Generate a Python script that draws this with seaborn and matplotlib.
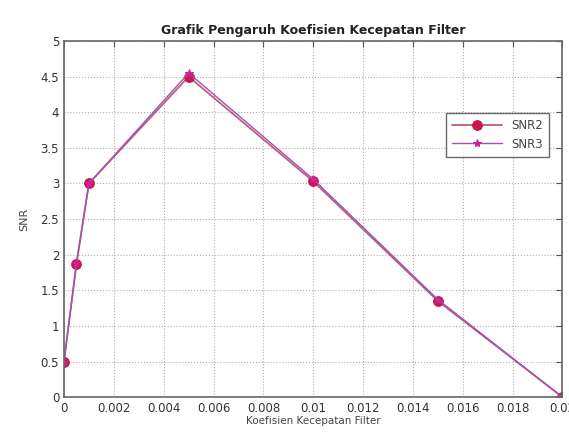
import numpy as np
import pandas as pd
import seaborn as sns
from matplotlib import pyplot as plt

# koefisien kecepatan filter vs SNR
koef = [0, 0.0005, 0.001, 0.005, 0.01, 0.015, 0.02]
snr2 = [0.5, 1.87, 3.0, 4.5, 3.03, 1.35, 0.0]
snr3 = [0.5, 1.88, 3.0, 4.55, 3.06, 1.37, 0.0]
xtick_labels = ["0", "0.002", "0.004", "0.006", "0.008", "0.01",
                "0.012", "0.014", "0.016", "0.018", "0.02"]
ytick_labels = ["0", "0.5", "1", "1.5", "2", "2.5", "3", "3.5", "4", "4.5", "5"]

sns.set_style("white")
plt.rcParams['font.family'] = ['DejaVu Sans']

fig = plt.figure(figsize=(5.69, 4.34), dpi=100)
ax = fig.add_axes([0.1125, 0.085, 0.876, 0.8205])

sns.lineplot(x=koef, y=snr2, ax=ax, color="#b8607a", lw=1.3,
             marker="o", markersize=7, markerfacecolor="#c8174a",
             markeredgecolor="#c8174a", label="SNR2")
sns.lineplot(x=koef, y=snr3, ax=ax, color="#a64fb0", lw=1.0,
             marker="*", markersize=6, markerfacecolor="#d0209a",
             markeredgecolor="#d0209a", label="SNR3")

ax.set_xlim(0, 0.02)
ax.set_ylim(0, 5)
ax.set_xticks(np.arange(0, 0.0201, 0.002))
ax.set_xticklabels(xtick_labels)
ax.set_yticks(np.arange(0, 5.01, 0.5))
ax.set_yticklabels(ytick_labels)
ax.grid(True, linestyle=":", color="#b0b0b0", lw=0.8)
ax.tick_params(direction="in", top=True, right=True, length=4,
               labelsize=8.5, colors="#555555", labelcolor="#333333")
for s in ax.spines.values():
    s.set_color("#666666")
    s.set_linewidth(1.2)

ax.set_title("Grafik Pengaruh Koefisien Kecepatan Filter", fontsize=9,
             fontweight="bold", color="#222222", pad=5)
ax.set_xlabel("Koefisien Kecepatan Filter", fontsize=7.5, color="#444444", labelpad=1)
ax.set_ylabel("SNR", fontsize=8, color="#444444", labelpad=8)

leg = ax.legend(loc="upper right", bbox_to_anchor=(0.985, 0.815), fontsize=8.5,
                frameon=True, fancybox=False, borderpad=0.5, handlelength=4.2)
leg.get_frame().set_edgecolor("#444444")
leg.get_frame().set_linewidth(1.0)
for t in leg.get_texts():
    t.set_color("#444444")

plt.savefig("out.png", dpi=100)
